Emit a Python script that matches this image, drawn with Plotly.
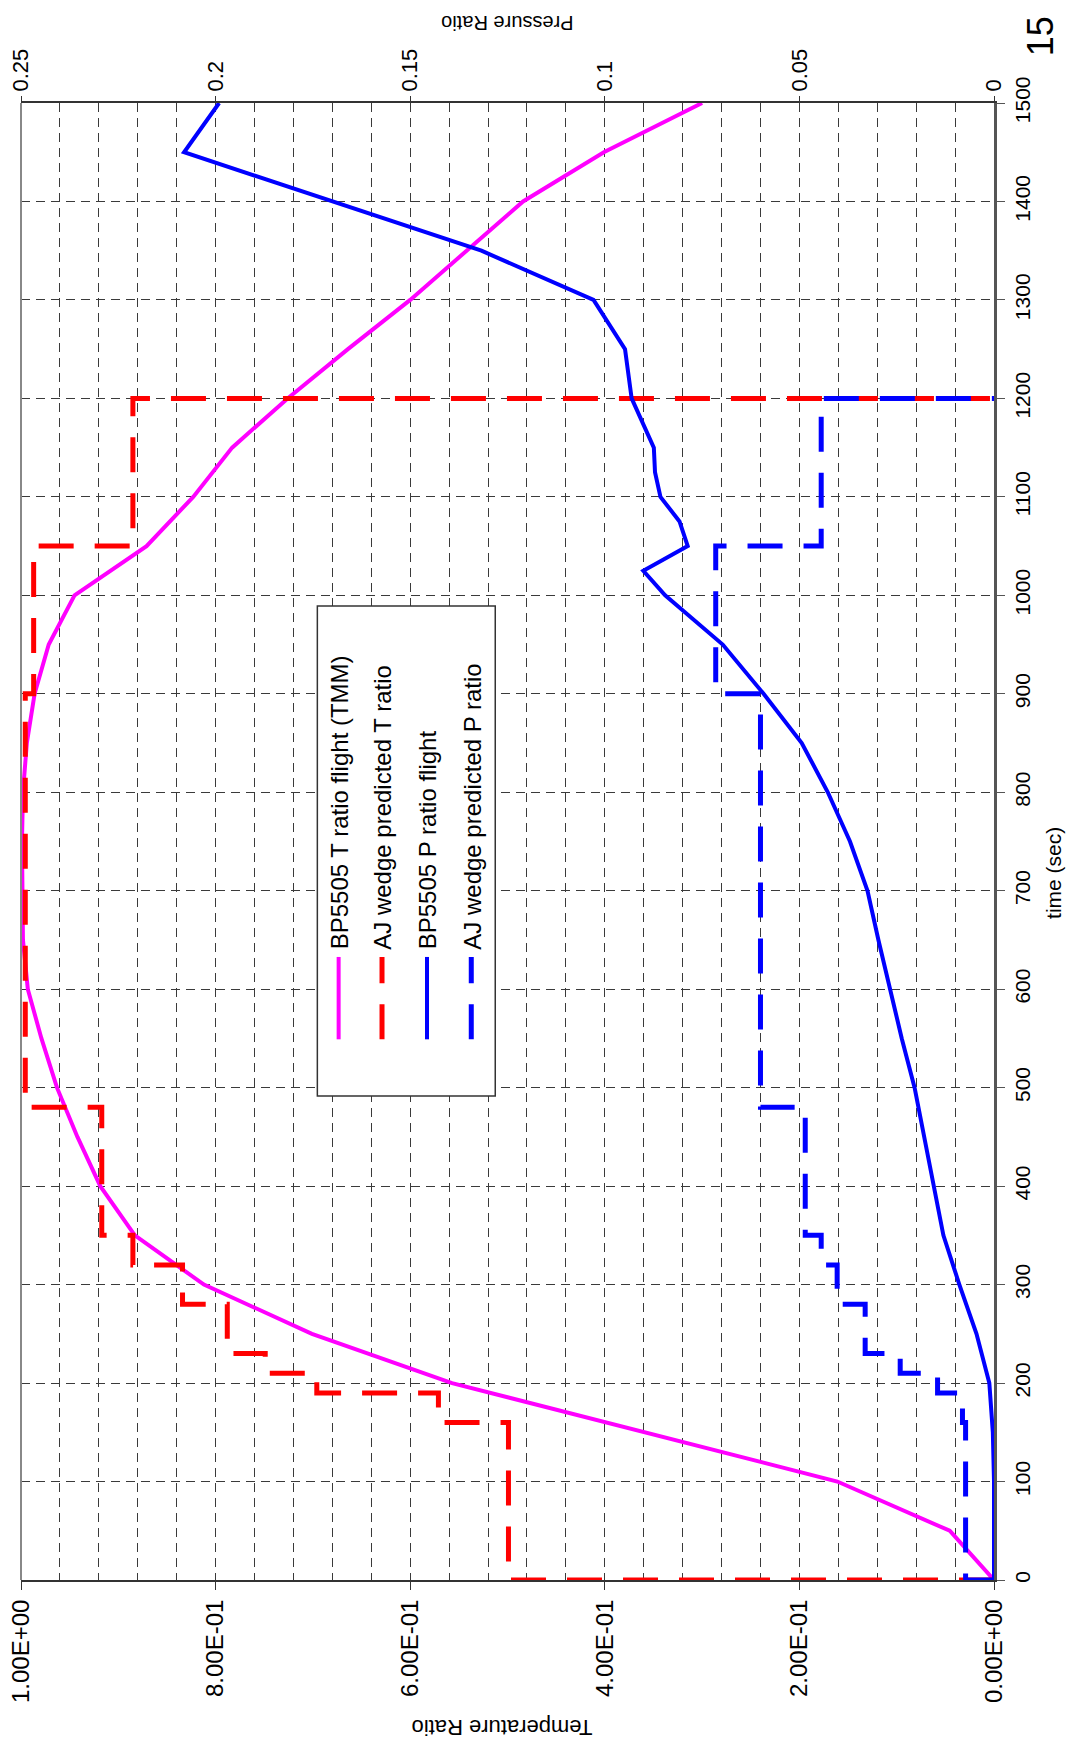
import plotly.graph_objects as go

# ---------------- data ----------------
# BP5505 T ratio flight (TMM): time (s) vs temperature ratio
t_T = [0, 50, 100, 200, 250, 300, 350, 400, 450, 500, 550, 600, 650, 700, 750,
       800, 850, 900, 950, 1000, 1050, 1100, 1150, 1200, 1250, 1300, 1350, 1400, 1450, 1500]
T_flight = [0.0, 0.0455, 0.161, 0.557, 0.701, 0.812, 0.883, 0.9185, 0.942, 0.963, 0.979,
            0.993, 0.998, 0.999, 0.999, 0.998, 0.994, 0.986, 0.9715, 0.945, 0.871, 0.823,
            0.783, 0.726, 0.664, 0.600, 0.542, 0.484, 0.401, 0.300]

# BP5505 P ratio flight: time (s) vs pressure ratio
t_P = [0, 50, 100, 150, 200, 250, 300, 350, 400, 450, 500, 550, 600, 650, 700, 750, 800,
       850, 900, 950, 1000, 1025, 1050, 1075, 1100, 1125, 1150, 1200, 1250, 1300, 1350, 1450, 1500]
P_flight = [0.0, 0.0, 0.0, 0.0003, 0.0012, 0.0045, 0.0089, 0.0130, 0.0154, 0.0179, 0.0204,
            0.0237, 0.0268, 0.0297, 0.0325, 0.0370, 0.0427, 0.0494, 0.0592, 0.0697, 0.0845,
            0.0901, 0.0787, 0.0808, 0.0857, 0.0871, 0.0874, 0.0931, 0.0948, 0.1029, 0.1317,
            0.2081, 0.1991]

# AJ wedge predictions: step boundaries (s) and value held in each interval
step_t = [0, 160, 190, 210, 230, 280, 320, 350, 480, 900, 1050, 1200]
T_pred = [0.499, 0.571, 0.696, 0.749, 0.788, 0.834, 0.885, 0.917, 0.9956, 0.987, 0.885]
P_pred = [0.0073, 0.0081, 0.0145, 0.0241, 0.0331, 0.0403, 0.0444, 0.0485, 0.0600, 0.0715, 0.0444]

time_ticks = list(range(0, 1501, 100))
T_ticks = [0, 0.2, 0.4, 0.6, 0.8, 1.0]
T_ticktext = ["0.00E+00", "2.00E-01", "4.00E-01", "6.00E-01", "8.00E-01", "1.00E+00"]
P_ticks = [0, 0.05, 0.1, 0.15, 0.2, 0.25]
P_ticktext = ["0", "0.05", "0.1", "0.15", "0.2", "0.25"]

names = ["BP5505 T ratio flight (TMM)", "AJ wedge predicted T ratio",
         "BP5505 P ratio flight", "AJ wedge predicted P ratio"]

# ---------------- figure ----------------
FONT = "Liberation Sans, Arial, Helvetica, sans-serif"
MAG, RED, BLUE = "#FF00FF", "#FF0000", "#0000FF"
DASH = "35px,21px"

def step_xy(vals):
    xs = [0] + list(vals) + [0]
    ys = [0] + step_t[1:] + [step_t[-1]]
    return xs, ys

fig = go.Figure()
fig.add_trace(go.Scatter(x=T_flight, y=t_T, mode="lines", name=names[0],
                         line=dict(color=MAG, width=4), xaxis="x", yaxis="y"))
rx, ry = step_xy(T_pred)
fig.add_trace(go.Scatter(x=rx, y=ry, mode="lines", name=names[1], line_shape="hv",
                         line=dict(color=RED, width=5, dash=DASH), xaxis="x", yaxis="y"))
fig.add_trace(go.Scatter(x=P_flight, y=t_P, mode="lines", name=names[2],
                         line=dict(color=BLUE, width=4), xaxis="x2", yaxis="y"))
bx, by = step_xy(P_pred)
fig.add_trace(go.Scatter(x=bx, y=by, mode="lines", name=names[3], line_shape="hv",
                         line=dict(color=BLUE, width=5, dash=DASH), xaxis="x2", yaxis="y"))

GRID = dict(gridcolor="#3a3a3a", griddash="9px,6px", gridwidth=1)

# page body has an 8px margin: figure is sized/offset to compensate
fig.update_layout(
    width=1067, height=1735,
    margin=dict(l=12.5, r=81, t=94.7, b=162.7, autoexpand=False),
    paper_bgcolor="white", plot_bgcolor="white",
    showlegend=False,
    font=dict(family=FONT, color="black"),
    xaxis=dict(range=[1, 0], tickvals=T_ticks, ticktext=T_ticktext, tickangle=-90,
               tickfont=dict(size=24), ticks="outside", ticklen=8, tickcolor="#333",
               ticklabeloverflow="allow",
               showline=True, linecolor="#333", linewidth=2, zeroline=False,
               showgrid=True, **GRID,
               minor=dict(tick0=0, dtick=0.04, showgrid=True, ticks="", **GRID)),
    xaxis2=dict(range=[0.25, 0], overlaying="x", side="top", anchor="y",
                tickvals=P_ticks, ticktext=P_ticktext, tickangle=-90,
                tickfont=dict(size=22), ticks="outside", ticklen=5, tickcolor="#333",
                ticklabeloverflow="allow",
                showline=True, linecolor="#333", linewidth=2, showgrid=False, zeroline=False),
    yaxis=dict(range=[0, 1500], side="right", tickvals=time_ticks, tickangle=-90,
               tickfont=dict(size=21), ticks="outside", ticklen=8, tickcolor="#555",
               ticklabeloverflow="allow",
               showline=True, linecolor="#555", linewidth=3, zeroline=False,
               showgrid=True, **GRID),
)

# left border of plot area
fig.add_shape(type="line", xref="paper", yref="paper", x0=0, x1=0, y0=0, y1=1,
              line=dict(color="#888888", width=2))

# ---------------- rotated legend ----------------
# page-pixel -> paper helpers (plot area on page: x 20.5..994, y 102.7..1580.3)
def px(xp):
    return (xp - 20.5) / 973.5

def py(yp):
    return (1580.3 - yp) / 1477.6

fig.add_shape(type="rect", xref="paper", yref="paper",
              x0=px(317), x1=px(495), y0=py(1096), y1=py(606),
              line=dict(color="#333333", width=1.5), fillcolor="white", layer="above")

sample_x = [338.3, 381.7, 426.7, 471.0]
sample_style = [(MAG, "solid", 4), (RED, DASH, 5), (BLUE, "solid", 4), (BLUE, DASH, 5)]
text_x = [339.5, 382.5, 428.0, 472.0]
for i in range(4):
    col, dsh, w = sample_style[i]
    fig.add_shape(type="line", xref="paper", yref="paper",
                  x0=px(sample_x[i]), x1=px(sample_x[i]), y0=py(1039.4), y1=py(957),
                  line=dict(color=col, width=w, dash=dsh), layer="above")
    fig.add_annotation(text=names[i], xref="paper", yref="paper",
                       x=px(text_x[i]), y=py(951.5), xanchor="center", yanchor="bottom",
                       textangle=-90, showarrow=False, font=dict(size=24, color="black"))

# ---------------- axis titles / page number ----------------
fig.add_annotation(text="Temperature Ratio", xref="paper", yref="paper",
                   x=px(502), y=py(1728), xanchor="center", yanchor="middle",
                   textangle=180, showarrow=False, font=dict(size=22))
fig.add_annotation(text="Pressure Ratio", xref="paper", yref="paper",
                   x=px(507), y=py(22), xanchor="center", yanchor="middle",
                   textangle=180, showarrow=False, font=dict(size=20))
fig.add_annotation(text="time (sec)", xref="paper", yref="paper",
                   x=px(1054), y=py(873), xanchor="center", yanchor="middle",
                   textangle=-90, showarrow=False, font=dict(size=21))
fig.add_annotation(text="15", xref="paper", yref="paper",
                   x=px(1040), y=py(36), xanchor="center", yanchor="middle",
                   textangle=-90, showarrow=False, font=dict(size=36))

fig.write_html("out.html")
